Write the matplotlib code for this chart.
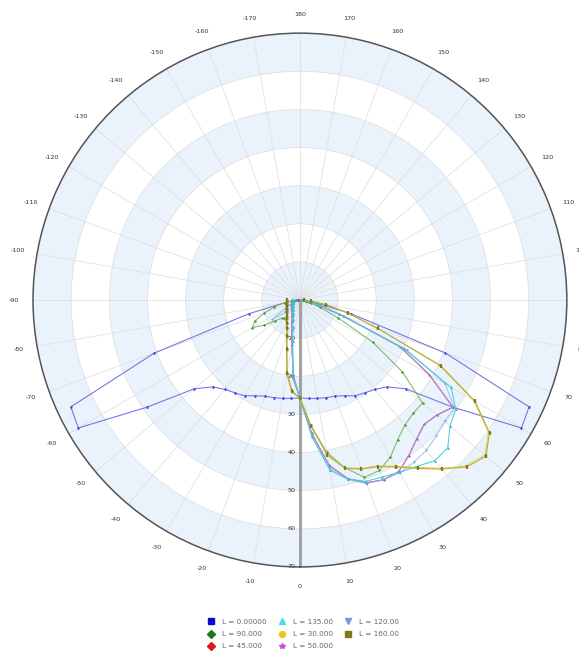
'''
plot.py
Polar luminous intensity chart, one curve per C-plane (L),
gamma 0 at the bottom, +gamma to the right.
'''
import numpy as np
import matplotlib
matplotlib.use('Agg')
import matplotlib.pyplot as plt
from matplotlib.lines import Line2D

# gamma angles (deg) of the measured points
gamma_neg = [-90, -85, -80, -75, -70, -65, -60, -55, -50, -45,
             -40, -35, -30, -25, -20, -15, -10, -5]
gamma_pos = [0, 5, 10, 15, 20, 25, 30, 35, 40, 45,
             50, 55, 60, 65, 70, 75, 80, 85, 90]

# intensities, right half (gamma 0..90)
L0_pos   = [25.7, 25.9, 26.2, 26.5, 26.8, 27.7, 29.0, 29.7, 30.6, 32.2,
            36.2, 49.0, 67.1, 66.3, 40.6, 13.9, 4.0, 1.5, 0.5]
L90_pos  = [25.7, 33.0, 40.5, 45.5, 49.5, 49.3, 47.5, 44.7, 42.8, 42.0,
            42.0, 32.8, 22.0, 11.0, 5.5, 3.0, 2.0, 1.0, 0.5]
L45_pos  = [25.7, 35.0, 44.0, 48.5, 51.0, 52.0, 51.9, 49.8, 47.6, 46.1,
            46.9, 49.0, 39.2, 29.0, 12.0, 5.0, 2.5, 1.2, 0.5]
L135_pos = [25.7, 36.0, 45.3, 48.6, 50.6, 51.2, 52.2, 53.3, 55.0, 54.8,
            51.4, 49.9, 45.8, 30.0, 11.0, 5.0, 2.5, 1.2, 0.5]
L30_pos  = [25.7, 33.0, 41.0, 45.5, 47.0, 48.0, 50.3, 53.6, 57.6, 61.5,
            63.3, 60.4, 52.6, 40.2, 21.5, 12.8, 6.9, 3.0, 1.0]
L50_pos  = [25.7, 35.0, 44.0, 48.5, 51.0, 52.0, 51.9, 49.8, 47.6, 46.1,
            46.9, 49.0, 39.2, 29.0, 12.0, 5.0, 2.5, 1.2, 0.5]
L120_pos = [25.7, 35.5, 44.8, 48.8, 51.2, 52.0, 52.3, 52.0, 51.5, 50.5,
            49.5, 49.5, 44.0, 31.0, 12.0, 5.0, 2.5, 1.2, 0.5]
L160_pos = [25.7, 33.2, 41.3, 45.7, 47.2, 48.2, 50.6, 53.9, 57.9, 61.9,
            63.7, 60.7, 53.0, 40.7, 21.8, 13.0, 7.0, 3.0, 1.0]

# intensities, left half (gamma -90..-5)
L0_neg   = [0.5, 1.5, 4.0, 13.9, 40.6, 66.3, 67.1, 49.0, 36.2, 32.2,
            30.6, 29.7, 29.0, 27.7, 26.8, 26.5, 26.2, 25.9]
L90_neg  = [1.0, 2.0, 4.0, 7.0, 10.0, 13.0, 14.4, 11.5, 8.5, 6.8,
            6.3, 6.3, 7.0, 8.0, 10.0, 13.3, 19.5, 24.0]
L45_neg  = [2.0, 2.0, 2.1, 2.1, 2.2, 2.3, 2.4, 2.6, 2.8, 3.0,
            3.3, 3.6, 4.1, 4.8, 6.0, 8.0, 12.0, 20.5]
L135_neg = [1.85, 1.85, 1.9, 1.95, 2.0, 2.1, 2.2, 2.4, 2.5, 2.7,
            3.0, 3.3, 3.8, 4.4, 5.5, 7.3, 11.0, 19.7]
L30_neg  = [3.5, 3.5, 3.6, 3.6, 3.7, 3.9, 4.0, 4.3, 4.5, 4.9,
            5.4, 6.0, 7.0, 8.2, 10.2, 13.6, 19.8, 24.2]
L50_neg  = [2.0, 2.0, 2.1, 2.1, 2.2, 2.3, 2.4, 2.6, 2.8, 3.0,
            3.3, 3.6, 4.1, 4.8, 6.0, 8.0, 12.0, 20.5]
L120_neg = [1.9, 1.9, 2.0, 2.0, 2.2, 3.0, 4.5, 9.0, 5.0, 3.0,
            3.1, 3.4, 3.9, 4.5, 5.6, 7.5, 11.5, 20.0]
L160_neg = [3.4, 3.4, 3.5, 3.5, 3.6, 3.8, 3.9, 4.2, 4.4, 4.8,
            5.3, 5.9, 6.8, 8.0, 10.0, 13.3, 19.5, 24.0]

# legend order (matplotlib fills columns first)
labels = ['L = 0.00000', 'L = 90.000', 'L = 45.000', 'L = 135.00',
          'L = 30.000', 'L = 50.000', 'L = 120.00', 'L = 160.00']
curves = [(L0_neg, L0_pos), (L90_neg, L90_pos), (L45_neg, L45_pos),
          (L135_neg, L135_pos), (L30_neg, L30_pos), (L50_neg, L50_pos),
          (L120_neg, L120_pos), (L160_neg, L160_pos)]
mk_colors   = ['#0a0ad0', '#1c7a1c', '#e01818', '#48dcec',
               '#f2c418', '#d048e0', '#6c9ee8', '#7c7a18']
line_colors = ['#7070e2', '#7cb866', '#e01818', '#48ccda',
               '#e6cc48', '#aa96e8', '#9cc4f2', '#b0aa40']
mk_line     = ['#4848d8', '#4c9a40', '#e01818', '#38c0d0',
               '#d8b830', '#9070dc', '#7aa8ec', '#807a20']
markers  = ['s', 'D', 'D', '^', 'o', '*', 'v', 's']
mk_sizes = [1.1, 1.3, 0.8, 1.6, 1.3, 1.6, 1.4, 2.1]
zorders  = [3, 4, 2.5, 4, 4.5, 3.5, 3.2, 5]

rmax = 70
r_ticks = [10, 20, 30, 40, 50, 60, 70]
theta_ticks = list(range(0, 360, 10))
theta_labels = [str(t) if t <= 180 else str(t - 360) for t in theta_ticks]

fig = plt.figure(figsize=(5.79, 6.55), dpi=100)
ax = fig.add_axes([0.057, 0.1344, 0.922, 0.815], projection='polar')
ax.set_theta_zero_location('S')
ax.set_theta_direction(1)
ax.set_ylim(0, rmax)

# alternating background rings
for b in range(0, rmax, 20):
    ax.bar(0, 10, width=2 * np.pi, bottom=b, color='#eaf3fb',
           linewidth=0, zorder=0.5)

ax.set_thetagrids(theta_ticks, theta_labels, fontsize=4.6, color='#333333')
ax.set_yticks(r_ticks)
ax.set_yticklabels([])
ax.grid(True, color='#dcdcdc', linewidth=0.5)
ax.tick_params(axis='x', pad=5.5, length=2.5, width=0.6, colors='#555555',
               direction='inout')
for lab in ax.get_xticklabels():
    lab.set_color('#333333')
ax.spines['polar'].set_color('#555555')
ax.spines['polar'].set_linewidth(1.1)

# gray radial axis at gamma 0
ax.axvline(0, color='#a2a2a2', linewidth=2.2, zorder=1.8)
for r in r_ticks:
    ax.annotate(str(r), xy=(0, r), xytext=(-3, 0), textcoords='offset points',
                ha='right', va='center', fontsize=4.6, color='#333333',
                zorder=1.9)

gam = np.deg2rad(np.array(gamma_neg + gamma_pos))
for (neg, pos), lc, mc, m, ms, z in zip(curves, line_colors, mk_line,
                                        markers, mk_sizes, zorders):
    ax.plot(gam, neg + pos, color=lc, linewidth=0.75, marker=m,
            markersize=ms, markerfacecolor=mc, markeredgecolor=mc,
            markeredgewidth=0.3, zorder=z)

handles = [Line2D([], [], linestyle='none', marker=m, markersize=4.2,
                  color=c) for m, c in zip(markers, mk_colors)]
fig.legend(handles, labels, loc='center', bbox_to_anchor=(0.523, 0.032),
           ncol=3, frameon=False, fontsize=5.2, labelcolor='#666666',
           handlelength=1.2, handletextpad=0.9, columnspacing=1.5,
           labelspacing=0.85)

fig.savefig('out.png', dpi=100)
